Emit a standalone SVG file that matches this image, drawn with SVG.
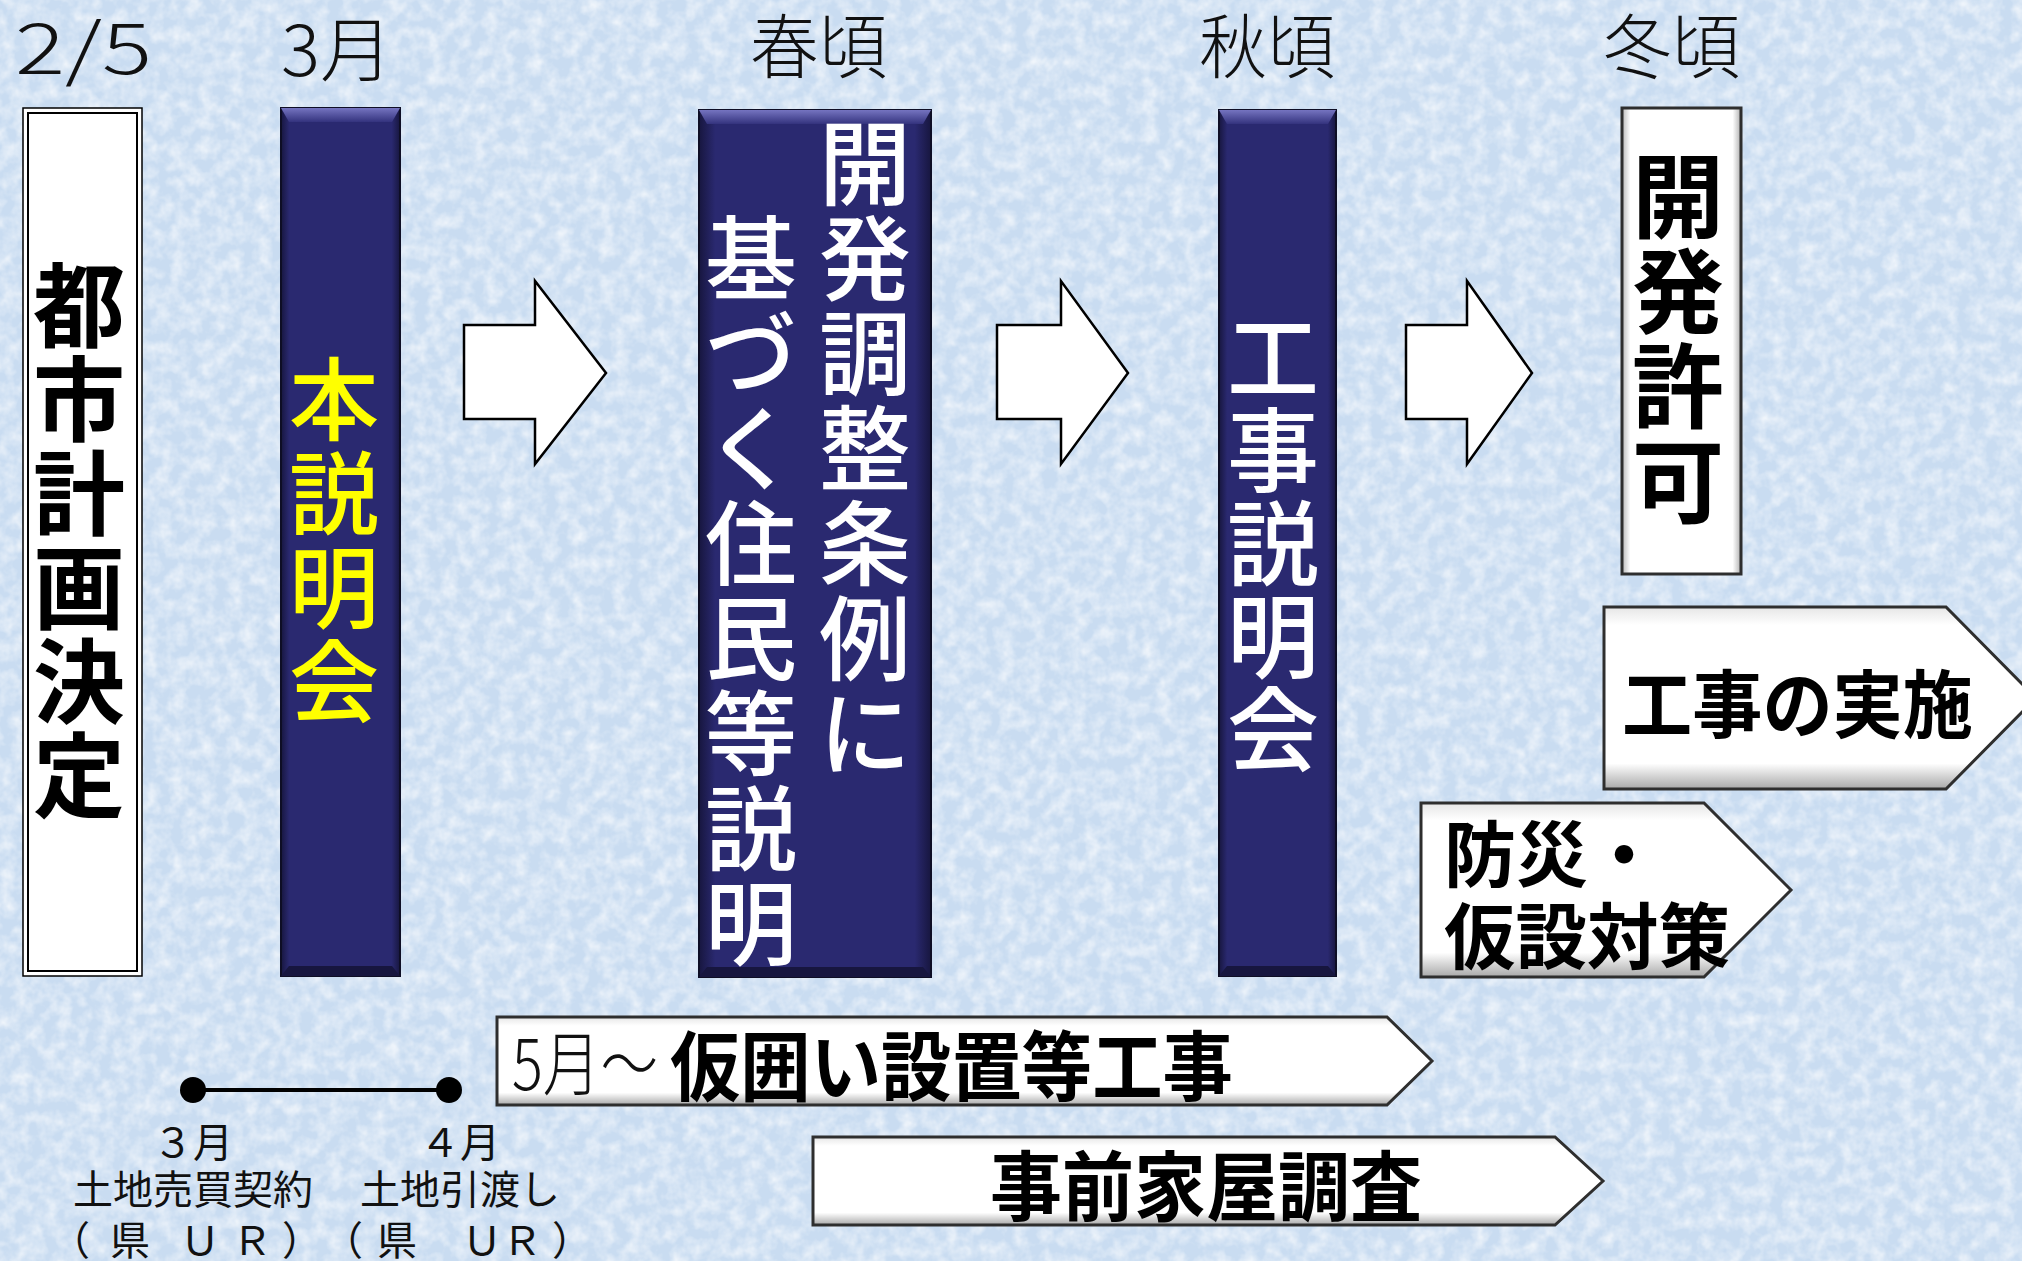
<svg xmlns="http://www.w3.org/2000/svg" width="2022" height="1261" viewBox="0 0 2022 1261">
<defs>
  <filter id="tex" x="0" y="0" width="100%" height="100%">
    <feTurbulence type="fractalNoise" baseFrequency="0.07" numOctaves="3" seed="7"/>
    <feColorMatrix type="matrix" values="0 0 0 0 1  0 0 0 0 1  0 0 0 0 1  0 0 0 1.6 -0.55"/>
  </filter>
  <linearGradient id="navyH" x1="0" y1="0" x2="1" y2="0">
    <stop offset="0" stop-color="#17163f"/>
    <stop offset="0.07" stop-color="#2a2970"/>
    <stop offset="0.93" stop-color="#2a2970"/>
    <stop offset="1" stop-color="#17163f"/>
  </linearGradient>
  <linearGradient id="bevTop" x1="0" y1="0" x2="0" y2="1">
    <stop offset="0" stop-color="#7574c0"/>
    <stop offset="1" stop-color="#34337e"/>
  </linearGradient>
  <linearGradient id="whiteH" x1="0" y1="0" x2="1" y2="0">
    <stop offset="0" stop-color="#b8b8b8"/>
    <stop offset="0.07" stop-color="#ffffff"/>
    <stop offset="0.93" stop-color="#ffffff"/>
    <stop offset="1" stop-color="#b0b0b0"/>
  </linearGradient>
  <linearGradient id="whiteV" x1="0" y1="0" x2="0" y2="1">
    <stop offset="0" stop-color="#e6e6e6"/>
    <stop offset="0.1" stop-color="#ffffff"/>
    <stop offset="0.86" stop-color="#ffffff"/>
    <stop offset="1" stop-color="#a8a8a8"/>
  </linearGradient>
  <style>
    .hdr{font-family:"Noto Sans CJK JP","Noto Sans",sans-serif;font-weight:300;font-size:70px;fill:#111}
    .v{font-family:"Noto Sans CJK JP",sans-serif;text-anchor:middle}
    .vb{font-size:92px;font-weight:700;fill:#000}
    .vy{font-size:90px;font-weight:500;fill:#ffff00}
    .vw{font-size:92px;font-weight:500;fill:#ffffff}
    .bold{font-family:"Noto Sans CJK JP",sans-serif;font-weight:700;fill:#000}
    .small{font-family:"Noto Sans CJK JP",sans-serif;font-weight:400;font-size:40px;fill:#111;text-anchor:middle}
    .arrow{fill:#ffffff;stroke:#000;stroke-width:2.5;stroke-linejoin:miter}
    .pent{fill:url(#whiteV);stroke:#2e2e2e;stroke-width:3}
  </style>
</defs>

<!-- background -->
<rect x="0" y="0" width="2022" height="1261" fill="#c9dcf1"/>
<rect x="0" y="0" width="2022" height="1261" filter="url(#tex)" opacity="0.75"/>

<!-- headers -->
<g id="headers">
  <text class="hdr" x="15" y="74" font-size="76" textLength="137" lengthAdjust="spacingAndGlyphs">2/5</text>
  <text class="hdr" x="281" y="76" textLength="112" lengthAdjust="spacingAndGlyphs">3月</text>
  <text class="hdr" x="750" y="73" textLength="137" lengthAdjust="spacingAndGlyphs">春頃</text>
  <text class="hdr" x="1199" y="73" textLength="136" lengthAdjust="spacingAndGlyphs">秋頃</text>
  <text class="hdr" x="1603" y="73" textLength="137" lengthAdjust="spacingAndGlyphs">冬頃</text>
</g>

<!-- node: 都市計画決定 -->
<g id="node-toshikeikaku">
  <rect x="23" y="108" width="119" height="868" fill="#ffffff" stroke="#000" stroke-width="1.5"/>
  <rect x="28" y="113" width="109" height="858" fill="none" stroke="#000" stroke-width="2"/>
  <text class="v vb">
    <tspan x="79" y="340">都</tspan><tspan x="79" y="434">市</tspan><tspan x="79" y="528">計</tspan><tspan x="79" y="622">画</tspan><tspan x="79" y="716">決</tspan><tspan x="79" y="810">定</tspan>
  </text>
</g>

<!-- node: 本説明会 -->
<g id="node-honsetsumeikai">
  <rect x="281" y="108" width="119" height="868" fill="url(#navyH)" stroke="#0e0e25" stroke-width="2"/>
  <polygon points="281,108 400,108 392,122 289,122" fill="url(#bevTop)"/>
  <polygon points="281,976 400,976 392,966 289,966" fill="#17163f"/>
  <text class="v vy">
    <tspan x="334" y="433">本</tspan><tspan x="334" y="527">説</tspan><tspan x="334" y="621">明</tspan><tspan x="334" y="715">会</tspan>
  </text>
</g>

<!-- node: 開発調整条例に基づく住民等説明 -->
<g id="node-kaihatsu-setsumei">
  <rect x="699" y="110" width="232" height="867" fill="url(#navyH)" stroke="#0e0e25" stroke-width="2"/>
  <polygon points="699,110 931,110 923,124 707,124" fill="url(#bevTop)"/>
  <polygon points="699,977 931,977 923,967 707,967" fill="#17163f"/>
  <text class="v vw">
    <tspan x="865" y="198">開</tspan><tspan x="865" y="293">発</tspan><tspan x="865" y="388">調</tspan><tspan x="865" y="483">整</tspan><tspan x="865" y="578">条</tspan><tspan x="865" y="673">例</tspan><tspan x="865" y="768">に</tspan>
  </text>
  <text class="v vw">
    <tspan x="751" y="293">基</tspan><tspan x="751" y="388">づ</tspan><tspan x="751" y="483">く</tspan><tspan x="751" y="578">住</tspan><tspan x="751" y="673">民</tspan><tspan x="751" y="768">等</tspan><tspan x="751" y="863">説</tspan><tspan x="751" y="958">明</tspan>
  </text>
</g>

<!-- node: 工事説明会 -->
<g id="node-koji-setsumeikai">
  <rect x="1219" y="110" width="117" height="866" fill="url(#navyH)" stroke="#0e0e25" stroke-width="2"/>
  <polygon points="1219,110 1336,110 1328,124 1227,124" fill="url(#bevTop)"/>
  <polygon points="1219,976 1336,976 1328,966 1227,966" fill="#17163f"/>
  <text class="v vw">
    <tspan x="1273" y="392">工</tspan><tspan x="1273" y="485">事</tspan><tspan x="1273" y="578">説</tspan><tspan x="1273" y="671">明</tspan><tspan x="1273" y="764">会</tspan>
  </text>
</g>

<!-- node: 開発許可 -->
<g id="node-kaihatsu-kyoka">
  <rect x="1622" y="108" width="119" height="466" fill="url(#whiteH)" stroke="#2e2e2e" stroke-width="3"/>
  <text class="v vb">
    <tspan x="1678" y="231">開</tspan><tspan x="1678" y="326">発</tspan><tspan x="1678" y="421">許</tspan><tspan x="1678" y="516">可</tspan>
  </text>
</g>

<!-- node: 工事の実施 -->
<g id="node-koji-jisshi">
  <polygon class="pent" points="1604,607 1946,607 2036,698 1946,789 1604,789"/>
  <text class="bold" x="1622" y="732" font-size="74" textLength="351" lengthAdjust="spacingAndGlyphs">工事の実施</text>
</g>

<!-- node: 防災・仮設対策 -->
<g id="node-bosai">
  <polygon class="pent" points="1421,803 1704,803 1791,890 1704,977 1421,977"/>
  <text class="bold" x="1444" y="881" font-size="72">防災・</text>
  <text class="bold" x="1444" y="963" font-size="72" textLength="286" lengthAdjust="spacingAndGlyphs">仮設対策</text>
</g>

<!-- node: 仮囲い設置等工事 -->
<g id="node-karigakoi">
  <polygon class="pent" points="497,1017 1387,1017 1432,1061 1387,1105 497,1105"/>
  <text class="hdr" x="512" y="1090" font-size="58" textLength="146" lengthAdjust="spacingAndGlyphs">5月～</text>
  <text class="bold" x="670" y="1095" font-size="76" textLength="563" lengthAdjust="spacingAndGlyphs">仮囲い設置等工事</text>
</g>

<!-- node: 事前家屋調査 -->
<g id="node-jizen">
  <polygon class="pent" points="813,1137 1555,1137 1603,1181 1555,1225 813,1225"/>
  <text class="bold" x="990" y="1215" font-size="76" textLength="432" lengthAdjust="spacingAndGlyphs">事前家屋調査</text>
</g>

<!-- node: land contract timeline labels -->
<g id="node-land">
  <text class="small" x="193" y="1157">３月</text>
  <text class="small" x="193" y="1204">土地売買契約</text>
  <text class="small" x="70 130 165 200 252 302" y="1255">（県　ＵＲ）</text>
  <text class="small" x="460" y="1157">４月</text>
  <text class="small" x="460" y="1204">土地引渡し</text>
  <text class="small" x="343 397 440 482 522 572" y="1255">（県　ＵＲ）</text>
</g>

<!-- connectors -->
<g id="connectors">
  <polygon class="arrow" points="464,325 535,325 535,281 606,373 535,464 535,419 464,419"/>
  <polygon class="arrow" points="997,325 1061,325 1061,281 1128,373 1061,464 1061,419 997,419"/>
  <polygon class="arrow" points="1406,325 1467,325 1467,281 1532,373 1467,464 1467,419 1406,419"/>
  <line x1="193" y1="1090" x2="449" y2="1090" stroke="#000" stroke-width="4"/>
  <circle cx="193" cy="1090" r="13" fill="#000"/>
  <circle cx="449" cy="1090" r="13" fill="#000"/>
</g>
</svg>
